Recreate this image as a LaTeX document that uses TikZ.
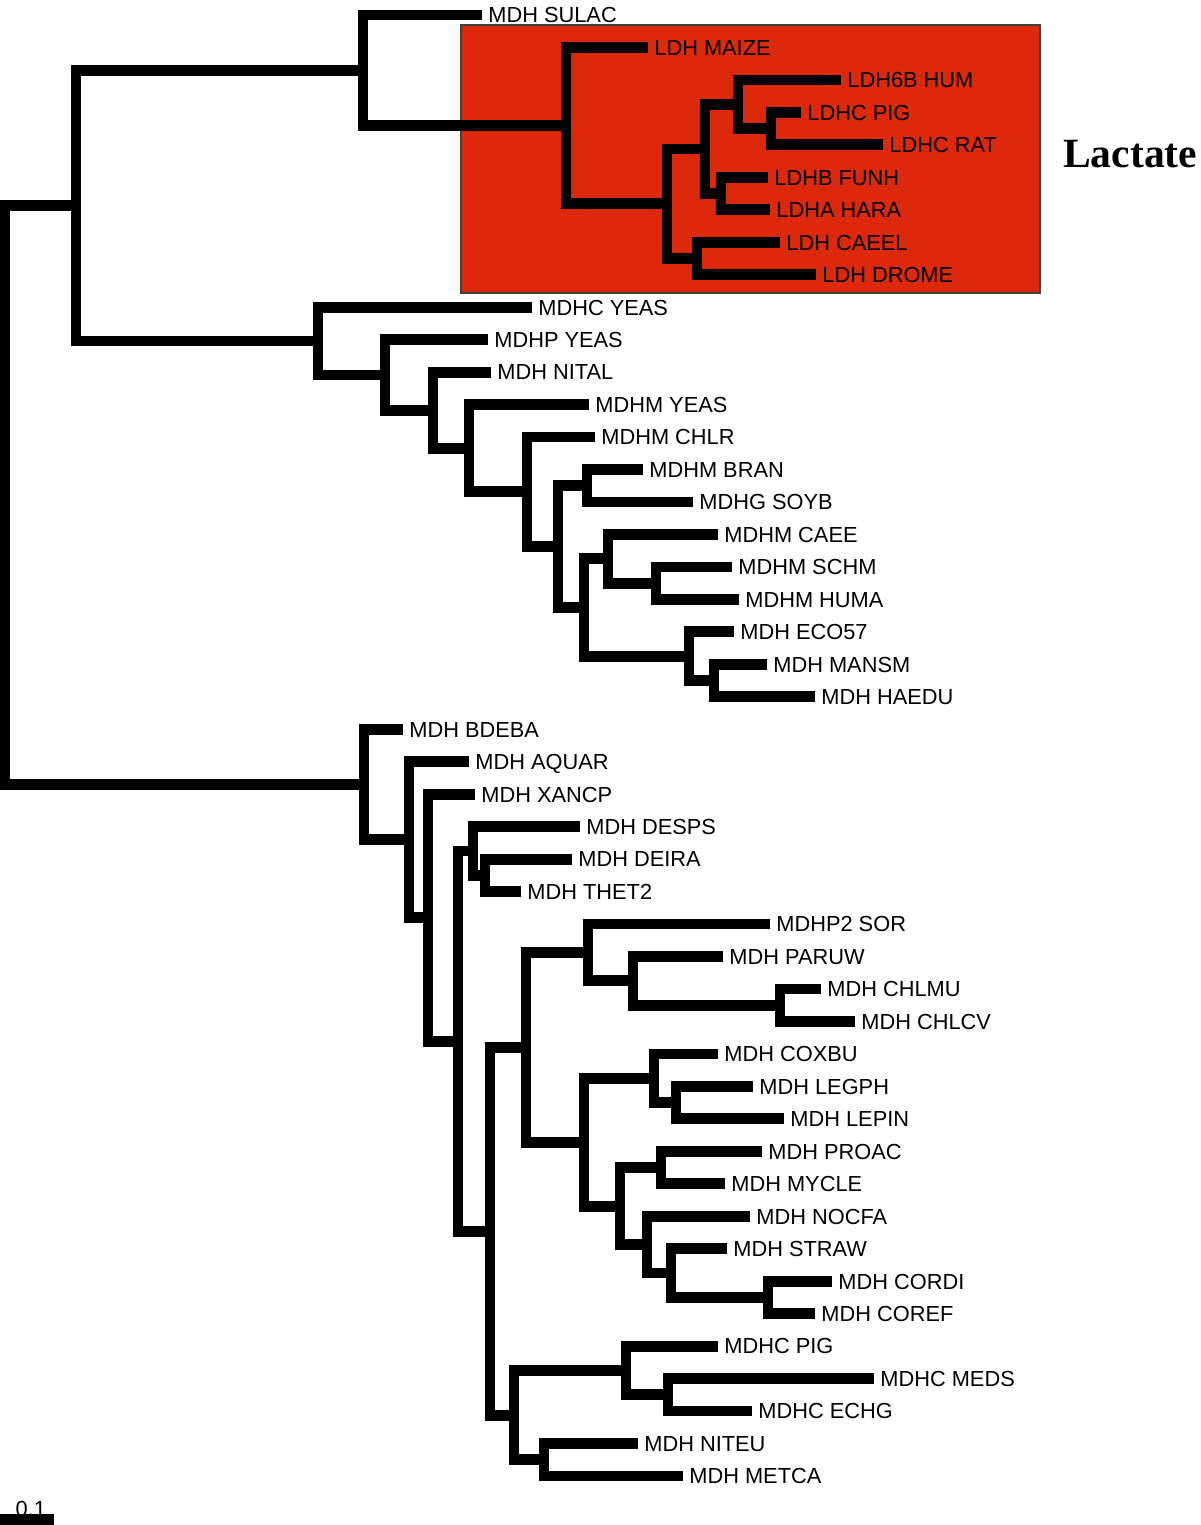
\documentclass[tikz,border=0pt]{standalone}
\usepackage{fontspec}
\setmainfont{Liberation Sans}
\newfontfamily\lactfont{Liberation Serif}
\definecolor{boxred}{RGB}{221,41,11}
\newcommand\myleaf[4]{\coordinate (#1) at (#2,{15+32.4667*#3}); \node[lab] (t#1) at (#1) {#4};}
\begin{document}
\begin{tikzpicture}[x=1pt,y=-1pt,
  br/.style={line width=10.8pt, line join=miter, line cap=butt},
  lab/.style={anchor=west, inner sep=0pt, xshift=6.2pt, text height=15.6pt, text depth=0pt, font=\fontsize{21.8}{24}\selectfont}]
\useasboundingbox (0,0) rectangle (1200,1525);
% highlighted box
\draw[fill=boxred, draw=black!75, line width=1.2pt] (461,25) rectangle (1040,293);
\node[anchor=base west, inner sep=0pt, font=\lactfont\bfseries\fontsize{41.6}{44}\selectfont] (lact) at (1063,168) {Lactate};
% leaves
\myleaf{l0}{482}{0}{MDH SULAC}
\myleaf{l1}{648}{1}{LDH MAIZE}
\myleaf{l2}{841}{2}{LDH6B HUM}
\myleaf{l3}{801}{3}{LDHC PIG}
\myleaf{l4}{883}{4}{LDHC RAT}
\myleaf{l5}{768}{5}{LDHB FUNH}
\myleaf{l6}{770}{6}{LDHA HARA}
\myleaf{l7}{780}{7}{LDH CAEEL}
\myleaf{l8}{816}{8}{LDH DROME}
\myleaf{l9}{532}{9}{MDHC YEAS}
\myleaf{l10}{488}{10}{MDHP YEAS}
\myleaf{l11}{491}{11}{MDH NITAL}
\myleaf{l12}{589}{12}{MDHM YEAS}
\myleaf{l13}{595}{13}{MDHM CHLR}
\myleaf{l14}{643}{14}{MDHM BRAN}
\myleaf{l15}{693}{15}{MDHG SOYB}
\myleaf{l16}{718}{16}{MDHM CAEE}
\myleaf{l17}{732}{17}{MDHM SCHM}
\myleaf{l18}{739}{18}{MDHM HUMA}
\myleaf{l19}{734}{19}{MDH ECO57}
\myleaf{l20}{767}{20}{MDH MANSM}
\myleaf{l21}{815}{21}{MDH HAEDU}
\myleaf{l22}{403}{22}{MDH BDEBA}
\myleaf{l23}{469}{23}{MDH AQUAR}
\myleaf{l24}{475}{24}{MDH XANCP}
\myleaf{l25}{580}{25}{MDH DESPS}
\myleaf{l26}{572}{26}{MDH DEIRA}
\myleaf{l27}{521}{27}{MDH THET2}
\myleaf{l28}{770}{28}{MDHP2 SOR}
\myleaf{l29}{723}{29}{MDH PARUW}
\myleaf{l30}{821}{30}{MDH CHLMU}
\myleaf{l31}{855}{31}{MDH CHLCV}
\myleaf{l32}{718}{32}{MDH COXBU}
\myleaf{l33}{753}{33}{MDH LEGPH}
\myleaf{l34}{784}{34}{MDH LEPIN}
\myleaf{l35}{762}{35}{MDH PROAC}
\myleaf{l36}{725}{36}{MDH MYCLE}
\myleaf{l37}{750}{37}{MDH NOCFA}
\myleaf{l38}{727}{38}{MDH STRAW}
\myleaf{l39}{832}{39}{MDH CORDI}
\myleaf{l40}{815}{40}{MDH COREF}
\myleaf{l41}{718}{41}{MDHC PIG}
\myleaf{l42}{874}{42}{MDHC MEDS}
\myleaf{l43}{752}{43}{MDHC ECHG}
\myleaf{l44}{638}{44}{MDH NITEU}
\myleaf{l45}{683}{45}{MDH METCA}
% internal nodes
\coordinate (D) at (771,128.63);
\coordinate (B) at (738,104.28);
\coordinate (C) at (721,193.57);
\coordinate (A) at (705,148.92);
\coordinate (E) at (697,258.5);
\coordinate (L2) at (667,203.71);
\coordinate (LDH) at (566,125.59);
\coordinate (N1) at (363,70.3);
\coordinate (M12) at (714,680.57);
\coordinate (M10) at (689,656.22);
\coordinate (M11) at (656,583.17);
\coordinate (M9) at (608,558.82);
\coordinate (M8) at (584,607.52);
\coordinate (M7) at (587,485.77);
\coordinate (M6) at (558,546.64);
\coordinate (M5) at (527,491.86);
\coordinate (M4) at (469,448.23);
\coordinate (M3) at (433,410.18);
\coordinate (M2) at (385,374.93);
\coordinate (M1) at (318,341.07);
\coordinate (Top) at (76,205.68);
\coordinate (B7) at (485,875.37);
\coordinate (B5) at (473,851.02);
\coordinate (G3) at (780,1005.23);
\coordinate (G2) at (633,980.88);
\coordinate (G1) at (588,952.48);
\coordinate (G7) at (676,1102.63);
\coordinate (G5) at (654,1078.28);
\coordinate (G8) at (661,1167.57);
\coordinate (G11) at (768,1297.43);
\coordinate (G10) at (671,1273.08);
\coordinate (G9) at (647,1244.67);
\coordinate (G6) at (620,1206.12);
\coordinate (G4) at (584,1142.2);
\coordinate (H) at (526,1047.34);
\coordinate (G14) at (668,1394.83);
\coordinate (G13) at (626,1370.48);
\coordinate (G15) at (544,1459.77);
\coordinate (G12) at (514,1415.12);
\coordinate (K) at (490,1231.23);
\coordinate (B4) at (458,1041.12);
\coordinate (B3) at (428,917.66);
\coordinate (B2) at (409,839.7);
\coordinate (B1) at (364,784.48);
\coordinate (Root) at (5,495.08);
% branches
\draw[br] (l3) -| (D) |- (l4);
\draw[br] (l2) -| (B) |- (D);
\draw[br] (l5) -| (C) |- (l6);
\draw[br] (B) -| (A) |- (C);
\draw[br] (l7) -| (E) |- (l8);
\draw[br] (A) -| (L2) |- (E);
\draw[br] (l1) -| (LDH) |- (L2);
\draw[br] (l0) -| (N1) |- (LDH);
\draw[br] (l20) -| (M12) |- (l21);
\draw[br] (l19) -| (M10) |- (M12);
\draw[br] (l17) -| (M11) |- (l18);
\draw[br] (l16) -| (M9) |- (M11);
\draw[br] (M9) -| (M8) |- (M10);
\draw[br] (l14) -| (M7) |- (l15);
\draw[br] (M7) -| (M6) |- (M8);
\draw[br] (l13) -| (M5) |- (M6);
\draw[br] (l12) -| (M4) |- (M5);
\draw[br] (l11) -| (M3) |- (M4);
\draw[br] (l10) -| (M2) |- (M3);
\draw[br] (l9) -| (M1) |- (M2);
\draw[br] (N1) -| (Top) |- (M1);
\draw[br] (l26) -| (B7) |- (l27);
\draw[br] (l25) -| (B5) |- (B7);
\draw[br] (l30) -| (G3) |- (l31);
\draw[br] (l29) -| (G2) |- (G3);
\draw[br] (l28) -| (G1) |- (G2);
\draw[br] (l33) -| (G7) |- (l34);
\draw[br] (l32) -| (G5) |- (G7);
\draw[br] (l35) -| (G8) |- (l36);
\draw[br] (l39) -| (G11) |- (l40);
\draw[br] (l38) -| (G10) |- (G11);
\draw[br] (l37) -| (G9) |- (G10);
\draw[br] (G8) -| (G6) |- (G9);
\draw[br] (G5) -| (G4) |- (G6);
\draw[br] (G1) -| (H) |- (G4);
\draw[br] (l42) -| (G14) |- (l43);
\draw[br] (l41) -| (G13) |- (G14);
\draw[br] (l44) -| (G15) |- (l45);
\draw[br] (G13) -| (G12) |- (G15);
\draw[br] (H) -| (K) |- (G12);
\draw[br] (B5) -| (B4) |- (K);
\draw[br] (l24) -| (B3) |- (B4);
\draw[br] (l23) -| (B2) |- (B3);
\draw[br] (l22) -| (B1) |- (B2);
\draw[br] (Top) -| (Root) |- (B1);
% scale bar
\node[anchor=base west, inner sep=0pt, font=\fontsize{21.8}{24}\selectfont] (sblab) at (15.5,1516) {0.1};
\coordinate (sb1) at (0,1519.5);
\coordinate (sb2) at (54,1519.5);
\draw[br] (sb1) -- (sb2);
\end{tikzpicture}
\end{document}
